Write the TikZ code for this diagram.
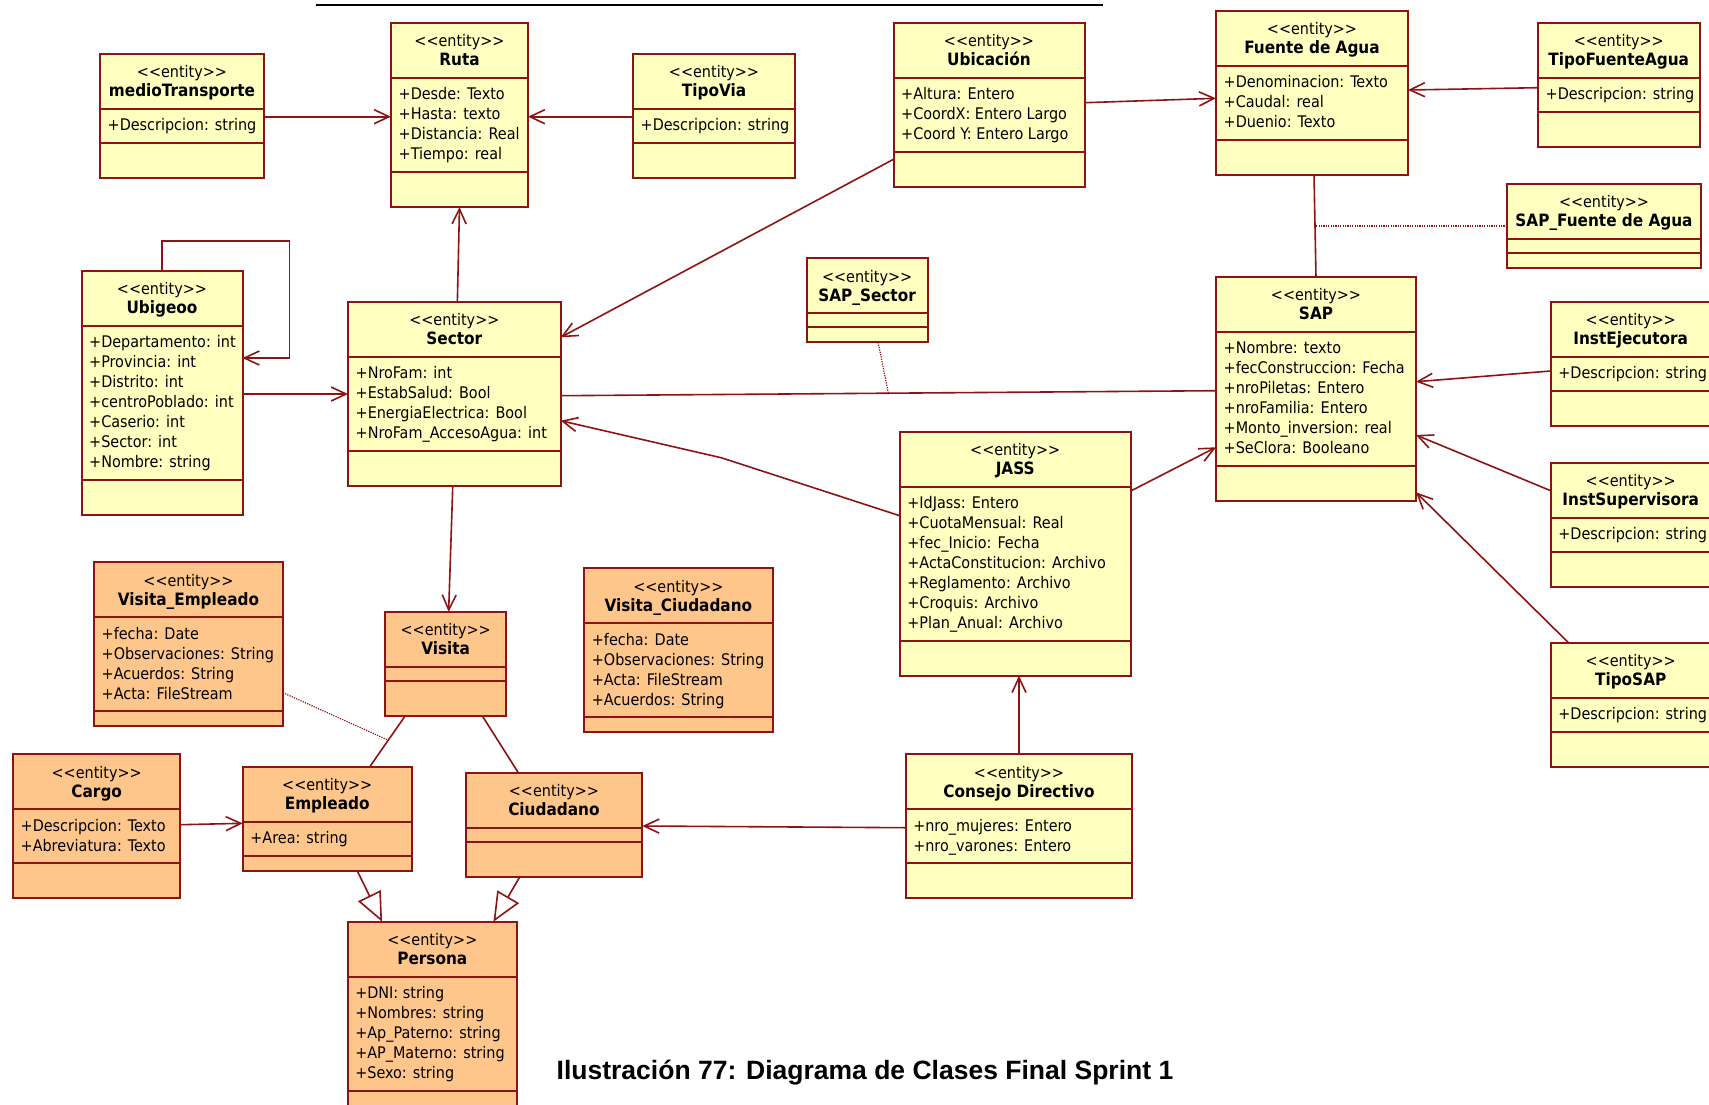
\documentclass[tikz,border=0pt]{standalone}
\usepackage{fontspec}
\usepackage{tikz}
\usetikzlibrary{arrows.meta,calc}
\usepackage{xcolor}

\newfontfamily\umlfont{DejaVu Sans Condensed}[BoldFont={DejaVu Sans Condensed Bold},Ligatures=TeXOff]
\newfontfamily\capfont{Liberation Sans}

\definecolor{umlred}{RGB}{140,20,20}
\definecolor{clsyellow}{RGB}{255,255,192}
\definecolor{clsorange}{RGB}{255,198,140}

% class box: fill style, name, top left corner, width, height of the
% operations part, class name, attributes
\newcommand{\umlclass}[7][yellowcls]{%
  \begin{scope}[shift={(#3)}]
    \def\nattr{0}%
    \if\relax\detokenize{#7}\relax\else
      \foreach \a [count=\i] in {#7} {\global\let\nattr\i}%
    \fi
    \pgfmathsetmacro\atth{14+20*\nattr}%
    \pgfmathsetmacro\clsh{55+\atth+#5}%
    \node[cls, #1, minimum width=#4pt, minimum height=\clsh pt, anchor=north west] (#2) at (0,0) {};
    \draw[cmpline] (0,55) -- (#4,55);
    \draw[cmpline] (0,55+\atth) -- (#4,55+\atth);
    \node[stereo] at ({#4/2},23.8) {<<entity>>};
    \node[clsname] at ({#4/2},42.8) {#6};
    \if\relax\detokenize{#7}\relax\else
      \foreach \a [count=\i] in {#7}
        \node[attr] at (7.5,{76.8+20*(\i-1)}) {\a};
    \fi
  \end{scope}}

\begin{document}
\begin{tikzpicture}[x=1pt, y=-1pt,
    font=\umlfont\fontsize{16}{20}\selectfont,
    cls/.style={draw=umlred, line width=2pt, inner sep=0pt, outer sep=0pt},
    yellowcls/.style={fill=clsyellow},
    orangecls/.style={fill=clsorange},
    cmpline/.style={draw=umlred, line width=2pt},
    stereo/.style={anchor=base, inner sep=0pt},
    clsname/.style={anchor=base, inner sep=0pt, font=\umlfont\fontsize{17}{20}\selectfont\bfseries},
    attr/.style={anchor=base west, inner sep=0pt},
    link/.style={draw=umlred, line width=1.6pt},
    assoc/.style={link, -{Straight Barb[length=15pt, width=14pt]}},
    gen/.style={link, -{Triangle[open, length=29pt, width=25pt]}},
    assocclass/.style={draw=umlred, line width=1.2pt, dash pattern=on 1.2pt off 1.2pt}
  ]
  \fill[white] (0,0) rectangle (1709,1104);
  \useasboundingbox (0,0) rectangle (1709,1104);
  \draw[line width=2pt] (316,4.5) -- (1103,4.5);

  % upper row
  \umlclass{mt}{100,54}{164}{35}{medioTransporte}{+Descripcion: string}
  \umlclass{ruta}{391,23}{137}{35}{Ruta}{+Desde: Texto, +Hasta: texto, +Distancia: Real, +Tiempo: real}
  \umlclass{tipovia}{633,54}{162}{35}{TipoVia}{+Descripcion: string}
  \umlclass{ubic}{893.5,23}{191}{35}{Ubicación}{+Altura: Entero, +CoordX: Entero Largo, +Coord Y: Entero Largo}
  \umlclass{fuente}{1216,10.5}{192}{35}{Fuente de Agua}{+Denominacion: Texto, +Caudal: real, +Duenio: Texto}
  \umlclass{tfa}{1538,23}{161.5}{35}{TipoFuenteAgua}{+Descripcion: string}
  \umlclass{sapfa}{1507,184}{194}{15}{SAP\_Fuente de Agua}{}

  % middle row
  \umlclass{ubigeo}{81.5,271}{161}{35}{Ubigeoo}{+Departamento: int, +Provincia: int, +Distrito: int, +centroPoblado: int, +Caserio: int, +Sector: int, +Nombre: string}
  \umlclass{sector}{348,302}{212.7}{35}{Sector}{+NroFam: int, +EstabSalud: Bool, +EnergiaElectrica: Bool, +NroFam\_AccesoAgua: int}
  \umlclass{sapsec}{806.7,258.3}{120.8}{15}{SAP\_Sector}{}
  \umlclass{sap}{1216,277}{200}{35}{SAP}{+Nombre: texto, +fecConstruccion: Fecha, +nroPiletas: Entero, +nroFamilia: Entero, +Monto\_inversion: real, +SeClora: Booleano}
  \umlclass{instej}{1550.7,301.7}{160}{35}{InstEjecutora}{+Descripcion: string}
  \umlclass{instsup}{1550.7,462.7}{160}{35}{InstSupervisora}{+Descripcion: string}
  \umlclass{tiposap}{1550.7,642.7}{160}{35}{TipoSAP}{+Descripcion: string}
  \umlclass{jass}{899.7,431.7}{231}{35}{JASS}{+IdJass: Entero, +CuotaMensual: Real, +fec\_Inicio: Fecha, +ActaConstitucion: Archivo, +Reglamento: Archivo, +Croquis: Archivo, +Plan\_Anual: Archivo}
  \umlclass{consejo}{905.6,754.3}{226.8}{35}{Consejo Directivo}{+nro\_mujeres: Entero, +nro\_varones: Entero}

  % people and visits
  \umlclass[orangecls]{visemp}{94,562.3}{189}{15}{Visita\_Empleado}{+fecha: Date, +Observaciones: String, +Acuerdos: String, +Acta: FileStream}
  \umlclass[orangecls]{visita}{385,611.7}{121.3}{35}{Visita}{}
  \umlclass[orangecls]{visciu}{584.2,568.3}{188.3}{15}{Visita\_Ciudadano}{+fecha: Date, +Observaciones: String, +Acta: FileStream, +Acuerdos: String}
  \umlclass[orangecls]{cargo}{13,754.3}{167.4}{35}{Cargo}{+Descripcion: Texto, +Abreviatura: Texto}
  \umlclass[orangecls]{empleado}{242.7,766.7}{169}{15}{Empleado}{+Area: string}
  \umlclass[orangecls]{ciudadano}{465.5,772.7}{176.8}{35}{Ciudadano}{}
  \umlclass[orangecls]{persona}{347.6,921.7}{169.4}{35}{Persona}{+DNI: string, +Nombres: string, +Ap\_Paterno: string, +AP\_Materno: string, +Sexo: string}

  % associations
  \draw[assoc] ([yshift=-62.7pt]mt.north east) -- ([yshift=-93.7pt]ruta.north west);
  \draw[assoc] ([yshift=-62.7pt]tipovia.north west) -- ([yshift=-93.7pt]ruta.north east);
  \draw[assoc] ([xshift=3pt]sector.north) -- (ruta.south);
  \draw[assoc] (ubigeo.north) -- ++(0,-30.3) -| ([xshift=47pt,yshift=-87pt]ubigeo.north east) -- ([yshift=-87pt]ubigeo.north east);
  \draw[assoc] ([yshift=-123pt]ubigeo.north east) -- ([yshift=-92pt]sector.north west);
  \draw[assoc] ([yshift=-136.3pt]ubic.north west) -- ([yshift=-35.3pt]sector.north east);
  \draw[assoc] ([yshift=-79.7pt]ubic.north east) -- ([yshift=-87.8pt]fuente.north west);
  \draw[assoc] ([yshift=-64.7pt]tfa.north west) -- ([yshift=-79.5pt]fuente.north east);
  \draw[link] ([xshift=2pt]fuente.south) -- coordinate[pos=.49] (fsmid) (sap.north);
  \draw[assocclass] (sapfa.west) -- (sapfa.west -| fsmid);
  \draw[link] ([yshift=-93.7pt]sector.north east) -- coordinate[pos=.5] (ssmid) ([yshift=-113.7pt]sap.north west);
  \draw[assocclass] ([xshift=11pt]sapsec.south) -- (ssmid);
  \coordinate (jbend) at (721.5,457.8);
  \draw[assoc] ([yshift=-84pt]jass.north west) -- (jbend) -- ([yshift=-118.7pt]sector.north east);
  \draw[assoc] ([yshift=-59.3pt]jass.north east) -- ([yshift=-170.3pt]sap.north west);
  \draw[assoc] ([yshift=-69.3pt]instej.north west) -- ([yshift=-104.7pt]sap.north east);
  \draw[assoc] ([yshift=-28pt]instsup.north west) -- ([yshift=-158pt]sap.north east);
  \draw[assoc] ([xshift=17.8pt]tiposap.north west) -- ([yshift=8.7pt]sap.south east);
  \draw[assoc] (consejo.north) -- (consejo.north |- jass.south);
  \draw[assoc] ([yshift=-73.4pt]consejo.north west) -- ([yshift=-53.3pt]ciudadano.north east);
  \draw[assoc] ([xshift=-1.6pt]sector.south) -- ([xshift=3pt]visita.north);
  \draw[link] ([xshift=20.3pt]visita.south west) -- coordinate[pos=.48] (vemid) ([xshift=42.6pt]empleado.north);
  \draw[assocclass] ([yshift=-130.4pt]visemp.north east) -- (vemid);
  \draw[link] ([xshift=-24.1pt]visita.south east) -- ([xshift=52.8pt]ciudadano.north west);
  \draw[assoc] ([yshift=-70.4pt]cargo.north east) -- ([yshift=-56.6pt]empleado.north west);

  % generalisations
  \draw[gen] ([xshift=114.5pt]empleado.south west) -- ([xshift=34.5pt]persona.north west);
  \draw[gen] ([xshift=54.4pt]ciudadano.south west) -- ([xshift=-23.5pt]persona.north east);

  \node[anchor=base west, inner sep=0pt, font=\capfont\fontsize{26.5}{30}\selectfont\bfseries] (caption) at (556.5,1079) {Ilustración 77: Diagrama de Clases Final Sprint 1};
\end{tikzpicture}
\end{document}
